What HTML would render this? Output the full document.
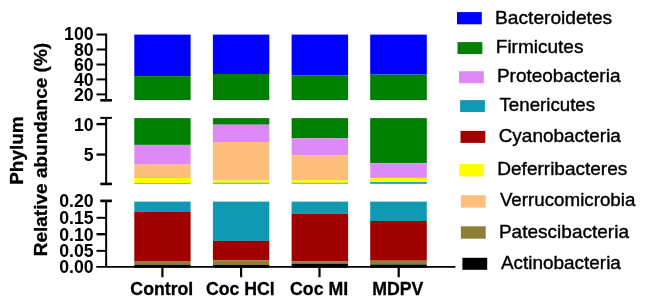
<!DOCTYPE html>
<html><head><meta charset="utf-8"><title>Phylum relative abundance</title>
<style>
html,body{margin:0;padding:0;background:#fff;}
svg{display:block;will-change:transform;}
text{font-family:"Liberation Sans",Arial,Helvetica,sans-serif;fill:#000}
.b{font-weight:bold;stroke:#000;stroke-width:0.3px;stroke-linejoin:round}
.t{font-size:17.7px}
.k{stroke:none}
.l{stroke:#000;stroke-width:0.4px;stroke-linejoin:round}
</style></head><body>
<svg width="645" height="305" viewBox="0 0 645 305">
<rect width="645" height="305" fill="#fff"/>
<rect x="134.30" y="34.60" width="56.30" height="41.50" fill="#0000ff"/>
<rect x="134.30" y="76.10" width="56.30" height="24.00" fill="#008000"/>
<rect x="134.30" y="118.10" width="56.30" height="26.80" fill="#008000"/>
<rect x="134.30" y="144.90" width="56.30" height="19.70" fill="#dd8af8"/>
<rect x="134.30" y="164.60" width="56.30" height="13.40" fill="#ffbf7c"/>
<rect x="134.30" y="178.00" width="56.30" height="5.00" fill="#ffff00"/>
<rect x="134.30" y="183.00" width="56.30" height="0.60" fill="#0f99b3"/>
<rect x="134.30" y="201.60" width="56.30" height="10.40" fill="#0f99b3"/>
<rect x="134.30" y="212.00" width="56.30" height="49.60" fill="#a10001"/>
<rect x="134.30" y="261.60" width="56.30" height="3.20" fill="#8d7f36"/>
<rect x="134.30" y="264.80" width="56.30" height="2.90" fill="#000000"/>
<rect x="212.90" y="34.60" width="56.40" height="39.40" fill="#0000ff"/>
<rect x="212.90" y="74.00" width="56.40" height="26.10" fill="#008000"/>
<rect x="212.90" y="118.10" width="56.40" height="6.60" fill="#008000"/>
<rect x="212.90" y="124.70" width="56.40" height="17.30" fill="#dd8af8"/>
<rect x="212.90" y="142.00" width="56.40" height="38.40" fill="#ffbf7c"/>
<rect x="212.90" y="180.40" width="56.40" height="2.40" fill="#ffff00"/>
<rect x="212.90" y="182.80" width="56.40" height="0.80" fill="#0f99b3"/>
<rect x="212.90" y="201.60" width="56.40" height="39.30" fill="#0f99b3"/>
<rect x="212.90" y="240.90" width="56.40" height="19.50" fill="#a10001"/>
<rect x="212.90" y="260.40" width="56.40" height="4.50" fill="#8d7f36"/>
<rect x="212.90" y="264.90" width="56.40" height="2.80" fill="#000000"/>
<rect x="291.60" y="34.60" width="56.50" height="41.00" fill="#0000ff"/>
<rect x="291.60" y="75.60" width="56.50" height="24.50" fill="#008000"/>
<rect x="291.60" y="118.10" width="56.50" height="20.20" fill="#008000"/>
<rect x="291.60" y="138.30" width="56.50" height="16.80" fill="#dd8af8"/>
<rect x="291.60" y="155.10" width="56.50" height="25.10" fill="#ffbf7c"/>
<rect x="291.60" y="180.20" width="56.50" height="2.70" fill="#ffff00"/>
<rect x="291.60" y="182.90" width="56.50" height="0.70" fill="#0f99b3"/>
<rect x="291.60" y="201.60" width="56.50" height="12.00" fill="#0f99b3"/>
<rect x="291.60" y="213.60" width="56.50" height="47.90" fill="#a10001"/>
<rect x="291.60" y="261.50" width="56.50" height="2.20" fill="#8d7f36"/>
<rect x="291.60" y="263.70" width="56.50" height="4.00" fill="#000000"/>
<rect x="370.20" y="34.60" width="56.60" height="40.00" fill="#0000ff"/>
<rect x="370.20" y="74.60" width="56.60" height="25.50" fill="#008000"/>
<rect x="370.20" y="118.10" width="56.60" height="45.10" fill="#008000"/>
<rect x="370.20" y="163.20" width="56.60" height="14.70" fill="#dd8af8"/>
<rect x="370.20" y="177.90" width="56.60" height="0.10" fill="#ffbf7c"/>
<rect x="370.20" y="178.00" width="56.60" height="4.10" fill="#ffff00"/>
<rect x="370.20" y="182.10" width="56.60" height="1.70" fill="#0f99b3"/>
<rect x="370.20" y="201.60" width="56.60" height="19.40" fill="#0f99b3"/>
<rect x="370.20" y="221.00" width="56.60" height="39.70" fill="#a10001"/>
<rect x="370.20" y="260.70" width="56.60" height="3.80" fill="#8d7f36"/>
<rect x="370.20" y="264.50" width="56.60" height="3.20" fill="#000000"/>
<line x1="106.15" y1="33.55" x2="106.15" y2="100.30" stroke="#000" stroke-width="2.0"/>
<line x1="100.30" y1="100.30" x2="111.90" y2="100.30" stroke="#000" stroke-width="2.6"/>
<line x1="106.15" y1="117.90" x2="106.15" y2="183.95" stroke="#000" stroke-width="2.0"/>
<line x1="100.30" y1="117.90" x2="111.90" y2="117.90" stroke="#000" stroke-width="2.0"/>
<line x1="100.30" y1="183.95" x2="111.90" y2="183.95" stroke="#000" stroke-width="2.6"/>
<line x1="106.15" y1="200.90" x2="106.15" y2="266.90" stroke="#000" stroke-width="2.0"/>
<line x1="100.30" y1="200.90" x2="111.90" y2="200.90" stroke="#000" stroke-width="2.7"/>
<line x1="96.30" y1="266.80" x2="455.40" y2="266.80" stroke="#000" stroke-width="1.8"/>
<line x1="96.50" y1="34.55" x2="106.15" y2="34.55" stroke="#000" stroke-width="2.0"/>
<text x="93.6" y="40.10" text-anchor="end" class="b t k">100</text>
<line x1="96.50" y1="49.50" x2="106.15" y2="49.50" stroke="#000" stroke-width="2.0"/>
<text x="93.6" y="55.65" text-anchor="end" class="b t k">80</text>
<line x1="96.50" y1="64.50" x2="106.15" y2="64.50" stroke="#000" stroke-width="2.0"/>
<text x="93.6" y="70.65" text-anchor="end" class="b t k">60</text>
<line x1="96.50" y1="79.40" x2="106.15" y2="79.40" stroke="#000" stroke-width="2.0"/>
<text x="93.6" y="85.55" text-anchor="end" class="b t k">40</text>
<line x1="96.50" y1="94.40" x2="106.15" y2="94.40" stroke="#000" stroke-width="2.0"/>
<text x="93.6" y="100.55" text-anchor="end" class="b t k">20</text>
<line x1="96.50" y1="124.10" x2="106.15" y2="124.10" stroke="#000" stroke-width="2.4"/>
<text x="93.6" y="130.65" text-anchor="end" class="b t k">10</text>
<line x1="96.50" y1="154.55" x2="106.15" y2="154.55" stroke="#000" stroke-width="2.3"/>
<text x="93.6" y="160.95" text-anchor="end" class="b t k">5</text>
<text x="93.6" y="206.85" text-anchor="end" class="b t k">0.20</text>
<line x1="96.50" y1="217.80" x2="106.15" y2="217.80" stroke="#000" stroke-width="2.0"/>
<text x="93.6" y="223.85" text-anchor="end" class="b t k">0.15</text>
<line x1="96.50" y1="234.20" x2="106.15" y2="234.20" stroke="#000" stroke-width="2.4"/>
<text x="93.6" y="240.65" text-anchor="end" class="b t k">0.10</text>
<line x1="96.50" y1="250.85" x2="106.15" y2="250.85" stroke="#000" stroke-width="2.0"/>
<text x="93.6" y="257.05" text-anchor="end" class="b t k">0.05</text>
<text x="93.6" y="273.35" text-anchor="end" class="b t k">0.00</text>
<line x1="162.40" y1="266.80" x2="162.40" y2="277.20" stroke="#000" stroke-width="2.2"/>
<text x="161.80" y="294.6" text-anchor="middle" class="b t">Control</text>
<line x1="241.10" y1="266.80" x2="241.10" y2="277.20" stroke="#000" stroke-width="2.2"/>
<text x="240.30" y="294.6" text-anchor="middle" class="b t">Coc HCl</text>
<line x1="319.50" y1="266.80" x2="319.50" y2="277.20" stroke="#000" stroke-width="2.2"/>
<text x="319.10" y="294.6" text-anchor="middle" class="b t">Coc MI</text>
<line x1="398.70" y1="266.80" x2="398.70" y2="277.20" stroke="#000" stroke-width="2.2"/>
<text x="397.80" y="294.6" text-anchor="middle" class="b t">MDPV</text>
<text transform="translate(23.1,150.55) rotate(-90)" text-anchor="middle" class="b" font-size="19">Phylum</text>
<text transform="translate(47.3,149.6) rotate(-90)" text-anchor="middle" class="b" font-size="19.03">Relative abundance (%)</text>
<rect x="457.00" y="12.10" width="24.80" height="12.20" fill="#0000ff"/>
<text x="495.10" y="24.00" font-size="19.15" class="l">Bacteroidetes</text>
<rect x="457.50" y="42.10" width="24.80" height="11.90" fill="#008000"/>
<text x="495.80" y="53.00" font-size="19.0" class="l">Firmicutes</text>
<rect x="459.00" y="71.20" width="24.80" height="12.10" fill="#dd8af8"/>
<text x="496.90" y="82.10" font-size="19.0" class="l">Proteobacteria</text>
<rect x="460.10" y="100.10" width="24.80" height="11.90" fill="#0f99b3"/>
<text x="499.50" y="111.20" font-size="18.7" class="l">Tenericutes</text>
<rect x="460.50" y="130.90" width="24.80" height="12.00" fill="#a10001"/>
<text x="498.70" y="141.70" font-size="18.97" class="l">Cyanobacteria</text>
<rect x="459.30" y="164.00" width="24.80" height="12.40" fill="#ffff00"/>
<text x="497.30" y="175.30" font-size="19.02" class="l">Deferribacteres</text>
<rect x="460.90" y="195.20" width="24.80" height="12.40" fill="#ffbf7c"/>
<text x="499.90" y="206.40" font-size="18.76" class="l">Verrucomicrobia</text>
<rect x="460.90" y="226.30" width="24.80" height="12.40" fill="#8d7f36"/>
<text x="498.90" y="237.80" font-size="19.04" class="l">Patescibacteria</text>
<rect x="462.40" y="257.80" width="24.80" height="12.00" fill="#000000"/>
<text x="500.90" y="269.10" font-size="18.94" class="l">Actinobacteria</text>
</svg>
</body></html>
